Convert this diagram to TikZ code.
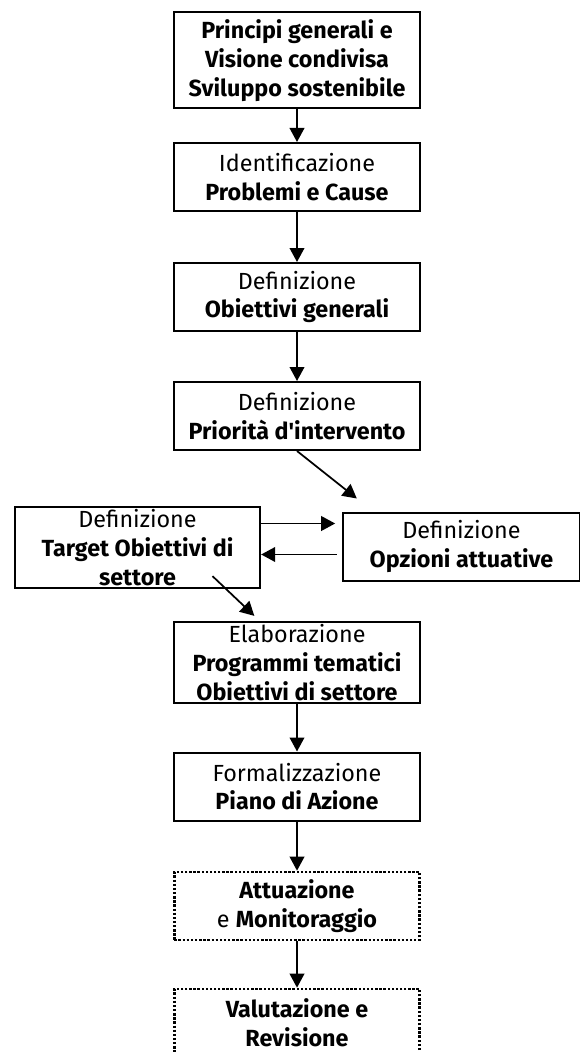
\documentclass[tikz,border=0pt]{standalone}
\usepackage{fontspec}
\setmainfont{Fira Sans}[Ligatures = TeXOff]
\usepackage{tikz}
\usetikzlibrary{arrows, arrows.meta}
\tikzset{box/.style = {shape = rectangle, draw, line width = 1.5pt, align = center,
    minimum width = 184pt, minimum height = 51pt, inner sep = 2pt,
    font = \fontsize{17.5}{21.5}\selectfont}}
\tikzset{plan/.style = {box, line width = 2pt, dash pattern = on 1.8pt off 1.3pt}}
\tikzset{edge/.style = {line width = 1.3pt, -{Triangle[length = 10.5pt, width = 11pt]}}}

\begin{document}
\begin{tikzpicture}[x = 0.75pt, y = -0.75pt]
			\useasboundingbox (0, 0) rectangle (580, 1052);
			\clip (0, 0) rectangle (580, 1052);

			\node[box, minimum height = 72pt] (b1) at (297, 60.5) {\textbf{Principi generali e}\\\textbf{Visione condivisa}\\\textbf{Sviluppo sostenibile}};
			\node[box] (b2) at (297, 177) {Identificazione\\\textbf{Problemi e Cause}};
			\node[box] (b3) at (297, 297) {Definizione\\\textbf{Obiettivi generali}};
			\node[box] (b4) at (297, 416) {Definizione\\\textbf{Priorità d'intervento}};
			\node[box] (target) at (137.5, 547.5) {Definizione\\\textbf{Target Obiettivi di}\\\textbf{settore}};
			\node[box, minimum width = 178pt] (opz) at (461.5, 546.5) {Definizione\\\textbf{Opzioni attuative}};
			\node[box] (elab) at (297, 662.5) {Elaborazione\\\textbf{Programmi tematici}\\\textbf{Obiettivi di settore}};
			\node[box] (form) at (297, 786.5) {Formalizzazione\\\textbf{Piano di Azione}};
			\node[plan] (att) at (297, 906) {\textbf{Attuazione}\\e \textbf{Monitoraggio}};
			\node[plan] (val) at (297, 1023) {\textbf{Valutazione e}\\\textbf{Revisione}};

			\draw[edge] (b1) to (b2);
			\draw[edge] (b2) to (b3);
			\draw[edge] (b3) to (b4);
			\draw[edge] (b4.south) to ([shift = {(15, -13)}]opz.north west);
			\draw[edge, shorten > = 5pt] ([yshift = 18pt]target.east) to ([yshift = 18pt]target.east -| opz.west);
			\draw[edge, shorten < = 4pt] ([yshift = -6pt]opz.west) to ([yshift = -6pt]opz.west -| target.east);
			\draw[edge] ([shift = {(75, -13)}]target.south) to ([shift = {(81, -5)}]elab.north west);
			\draw[edge] (elab) to (form);
			\draw[edge] (form) to (att);
			\draw[edge] (att) to (val);
		\end{tikzpicture}
\end{document}
